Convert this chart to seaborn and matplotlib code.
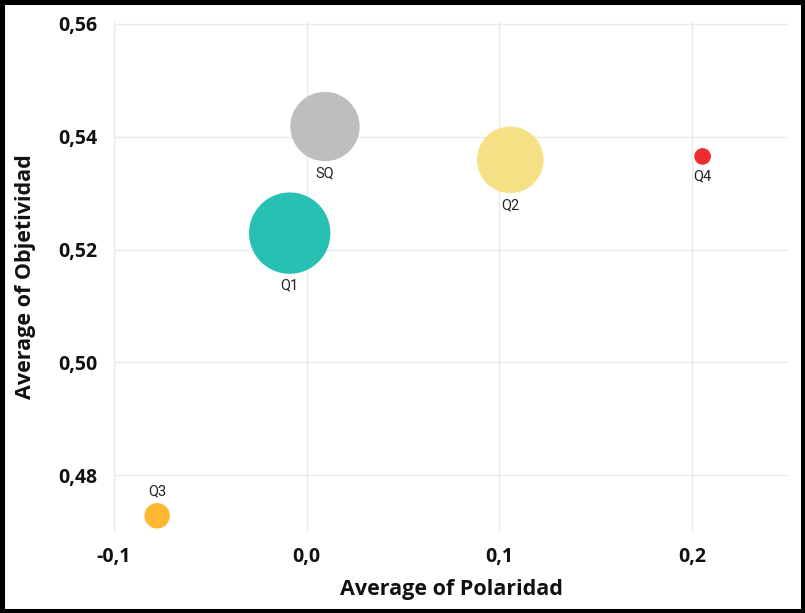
import matplotlib
matplotlib.use("Agg")
import matplotlib.pyplot as plt
from matplotlib.patches import Rectangle
from matplotlib.ticker import FuncFormatter
import seaborn as sns
import pandas as pd
import numpy as np

# ---- data ----
quarters = ["Q1", "SQ", "Q2", "Q3", "Q4"]
polaridad = [-0.0088, 0.0095, 0.1057, -0.0776, 0.2055]
objetividad = [0.5229, 0.5418, 0.5359, 0.4728, 0.5365]
bubble_size = [1650, 1200, 1105, 161, 69]
x_ticks = [-0.1, 0.0, 0.1, 0.2]
y_ticks = [0.48, 0.50, 0.52, 0.54, 0.56]

df = pd.DataFrame({"Quarter": quarters, "Polaridad": polaridad,
                   "Objetividad": objetividad, "Size": bubble_size})

palette = {"Q1": "#1DBDB0", "SQ": "#BBBBBB", "Q2": "#F5DF80",
           "Q3": "#FDB325", "Q4": "#EE2222"}
labels_above = {"Q3"}

sns.set_theme(style="white")
plt.rcParams["font.family"] = ["Open Sans", "DejaVu Sans"]

fig = plt.figure(figsize=(8.05, 6.13), dpi=100)
ax = fig.add_axes([0.1416, 0.1310, 0.8377, 0.8347])

smax = 3434.0
size_norm = (0, max(bubble_size))
sns.scatterplot(data=df, x="Polaridad", y="Objetividad", hue="Quarter",
                size="Size", sizes=(0, smax), size_norm=size_norm,
                palette=palette, linewidth=0, alpha=0.95, legend=False,
                ax=ax, zorder=3)

ax.set_xlim(-0.1, 0.25)
ax.set_ylim(0.4698, 0.5605)
ax.set_xticks(x_ticks)
ax.set_yticks(y_ticks)
ax.xaxis.set_major_formatter(FuncFormatter(lambda v, p: f"{v:.1f}".replace(".", ",").replace("-0,0", "0,0")))
ax.yaxis.set_major_formatter(FuncFormatter(lambda v, p: f"{v:.2f}".replace(".", ",")))
ax.grid(True, color="#EAEAEA", linewidth=1.0, zorder=0)
ax.set_axisbelow(True)
for s in ax.spines.values():
    s.set_visible(False)
ax.tick_params(axis="both", length=0, labelsize=14, colors="#111111")
ax.tick_params(axis="x", pad=10)
ax.tick_params(axis="y", pad=12)
for lab in ax.get_xticklabels() + ax.get_yticklabels():
    lab.set_fontweight("bold")

ax.set_xlabel("Average of Polaridad", fontsize=15.5, fontweight="bold",
              color="#111111", labelpad=9)
ax.set_ylabel("Average of Objetividad", fontsize=15.5, fontweight="bold",
              color="#111111", labelpad=16)

# data labels just outside each bubble
for q, xv, yv, sv in zip(quarters, polaridad, objetividad, bubble_size):
    area = smax * (sv - size_norm[0]) / (size_norm[1] - size_norm[0])
    r_pt = np.sqrt(area) / 2.0
    off = r_pt + 8.5
    dy = off if q in labels_above else -off
    ax.annotate(q, (xv, yv), xytext=(0, dy), textcoords="offset points",
                ha="center", va="center", fontsize=10.5, color="#222222",
                family=["Roboto", "DejaVu Sans"], zorder=4)

fig.patches.append(Rectangle((0, 0), 1, 1, transform=fig.transFigure,
                             fill=False, edgecolor="black", linewidth=6.5,
                             zorder=10))

fig.savefig("out.png", dpi=100)
